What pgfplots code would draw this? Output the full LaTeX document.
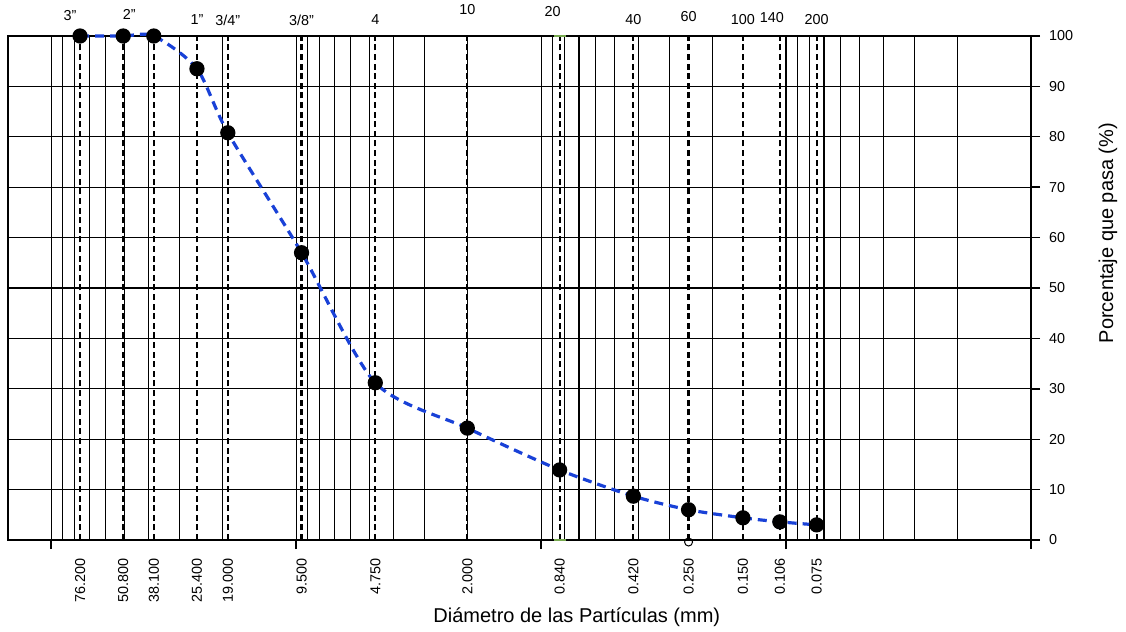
\documentclass[border=0pt]{standalone}
\usepackage{pgfplots}
\pgfplotsset{compat=1.18}
\usepackage{fontspec}
\setmainfont{Liberation Sans}
\definecolor{curveblue}{RGB}{25,65,215}
\definecolor{sgreen}{RGB}{120,170,80}
\begin{document}
\begin{tikzpicture}[font=\fontsize{7.2bp}{8.6bp}\selectfont]
\path[use as bounding box] (-4bp,-46bp) rectangle (559bp,270bp);
\begin{axis}[
  at={(0,0)}, anchor=south west,
  scale only axis, width=511.5bp, height=252bp,
  xmode=log, x dir=reverse,
  xmin=0.01, xmax=150, ymin=0, ymax=100,
  clip=false,
  axis line style={black, line width=0.8bp},
  tick align=outside,
  major tick length=4.5bp, minor tick length=0pt,
  tick style={black, line width=0.7bp},
  ytick={0,10,...,100},
  ytick pos=right, yticklabel pos=right,
  xtick pos=bottom,
  xtick={0.01,0.1,1,10,100},
  xticklabels={},
  minor xtick={0.02,0.03,0.04,0.05,0.06,0.07,0.08,0.09,0.2,0.3,0.4,0.5,0.6,0.7,0.8,0.9,2,3,4,5,6,7,8,9,20,30,40,50,60,70,80,90},
  xmajorgrids, xminorgrids, ymajorgrids,
  major grid style={black, line width=0.55bp},
  minor grid style={black, line width=0.55bp},
  yticklabel style={font=\fontsize{7.2bp}{8.6bp}\selectfont, xshift=1bp},
  /pgf/number format/assume math mode=true,
  extra x ticks={76.2,50.8,38.1,25.4,19,9.5,4.75,2,0.84,0.42,0.25,0.15,0.106,0.075},
  extra x tick labels={76.200,50.800,38.100,25.400,19.000,9.500,4.750,2.000,0.840,0.420,0.250,0.150,0.106,0.075},
  extra x tick style={grid=none, major tick length=0pt,
    tick label style={yshift=-5.5bp, rotate=90, anchor=east, font=\fontsize{7.2bp}{8.6bp}\selectfont}},
]
\pgfplotsinvokeforeach{76.2,50.8,38.1,25.4,19,9.5,4.75,2,0.84,0.42,0.25,0.15,0.106,0.075}{
  \addplot[black, line width=1.1bp, dash pattern=on 3bp off 1.8bp, forget plot] coordinates {(#1,0) (#1,100)};
}
\addplot[only marks, mark=-, mark size=3bp, sgreen, line width=1bp] coordinates {(0.84,0) (0.84,100)};
\addplot[only marks, mark=o, mark size=2bp, black, line width=0.5bp] coordinates {(0.25,-0.4)};
\addplot[curveblue, line width=1.6bp, dash pattern=on 4.5bp off 3bp, smooth, tension=0.45,
  mark=*, mark size=3bp, mark options={solid, draw=black, fill=black}]
  coordinates {
  (76.2,100) (50.8,100) (38.1,100) (25.4,93.5) (19.0,80.8) (9.5,57.0)
  (4.75,31.2) (2.0,22.2) (0.84,13.9) (0.42,8.7) (0.25,6.0) (0.15,4.4)
  (0.106,3.6) (0.075,3.0)};
% sieve labels on top
\node at (axis cs:76.2,100) [yshift=10bp, xshift=-5bp] {3\symbol{34}};
\node at (axis cs:50.8,100) [yshift=11bp, xshift=3bp] {2\symbol{34}};
\node at (axis cs:25.4,100) [yshift=8bp] {1\symbol{34}};
\node at (axis cs:19,100) [yshift=8bp] {3/4\symbol{34}};
\node at (axis cs:9.5,100) [yshift=8bp] {3/8\symbol{34}};
\node at (axis cs:4.75,100) [yshift=8bp] {4};
\node at (axis cs:2,100) [yshift=13bp] {10};
\node at (axis cs:0.84,100) [yshift=12bp, xshift=-3.5bp] {20};
\node at (axis cs:0.42,100) [yshift=8bp] {40};
\node at (axis cs:0.25,100) [yshift=9.5bp] {60};
\node at (axis cs:0.15,100) [yshift=8bp] {100};
\node at (axis cs:0.106,100) [yshift=9bp, xshift=-4bp] {140};
\node at (axis cs:0.075,100) [yshift=8bp] {200};
\node[xshift=38.5bp, rotate=90, font=\fontsize{10bp}{12bp}\selectfont] at (rel axis cs:1,0.609) {Porcentaje que pasa (\%)};
\node[font=\fontsize{10bp}{12bp}\selectfont] at (rel axis cs:0.556,0) [yshift=-38.5bp] {Diámetro de las Partículas (mm)};
\end{axis}
\end{tikzpicture}
\end{document}
